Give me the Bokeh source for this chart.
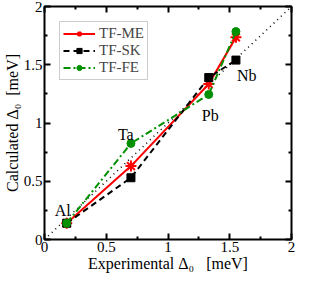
from bokeh.plotting import figure
from bokeh.models import (Range1d, FixedTicker, LinearAxis, CustomJSTickFormatter,
                          ColumnDataSource, Legend, LegendItem)
from bokeh.core.properties import value
from bokeh.embed import file_html
from bokeh.resources import INLINE

# ---- data ----
materials = ["Al", "Ta", "Pb", "Nb"]
experimental = [0.18, 0.70, 1.33, 1.55]
tf_me = [0.14, 0.63, 1.335, 1.735]
tf_sk = [0.14, 0.53, 1.39, 1.54]
tf_fe = [0.14, 0.825, 1.245, 1.785]
label_anchor_y = [0.14, 0.825, 1.245, 1.54]
diag = [0, 2]
major_ticks = [0, 0.5, 1, 1.5, 2]
tick_labels = ["0", "0.5", "1", "1.5", "2"]
minor_ticks = [0.25, 0.75, 1.25, 1.75]

FONT = "Liberation Serif"
RED = "#ff0000"
GREEN = "#009000"

p = figure(width=296, height=274, output_backend="svg", toolbar_location=None,
           x_range=Range1d(0, 2), y_range=Range1d(0, 2),
           min_border_left=0, min_border_right=5, min_border_top=6, min_border_bottom=0)
p.grid.visible = False
p.outline_line_color = "black"
p.outline_line_width = 2

fmt = CustomJSTickFormatter(args=dict(mt=major_ticks, ml=tick_labels),
                            code="const i = mt.indexOf(tick); return i >= 0 ? ml[i] : String(tick);")
blank = CustomJSTickFormatter(code="return '';")

def style_axis(ax, show_labels=True):
    ax.ticker = FixedTicker(ticks=major_ticks, minor_ticks=minor_ticks)
    ax.axis_line_color = None
    ax.major_tick_in = 6
    ax.major_tick_out = 0
    ax.minor_tick_in = 3
    ax.minor_tick_out = 0
    ax.major_tick_line_width = 2
    ax.minor_tick_line_width = 2
    ax.major_tick_line_color = "black"
    ax.minor_tick_line_color = "black"
    if show_labels:
        ax.formatter = fmt
        ax.major_label_text_font = FONT
        ax.major_label_text_font_size = "15px"
        ax.major_label_text_color = "black"
        ax.major_label_text_line_height = 0.9
        ax.major_label_standoff = 2
        ax.axis_label_text_font = FONT
        ax.axis_label_text_font_size = "16px"
        ax.axis_label_text_font_style = "normal"
        ax.axis_label_text_color = "black"
        ax.axis_label_text_line_height = 0.9
        ax.axis_label_standoff = 0
    else:
        ax.formatter = blank
        ax.major_label_standoff = 0

style_axis(p.xaxis[0])
style_axis(p.yaxis[0])
p.xaxis[0].axis_label = "Experimental Δ₀\u00a0\u00a0\u00a0[meV]"
p.yaxis[0].axis_label = "Calculated Δ₀\u00a0\u00a0[meV]"

top = LinearAxis()
right = LinearAxis()
style_axis(top, False)
style_axis(right, False)
p.add_layout(top, "above")
p.add_layout(right, "right")

# diagonal
p.line(diag, diag, line_color="black", line_dash="1 4", line_width=1.5)

src = ColumnDataSource(dict(x=experimental, me=tf_me, sk=tf_sk, fe=tf_fe,
                            name=materials, ly=label_anchor_y))

l1 = p.line("x", "me", source=src, line_color=RED, line_width=2)
m1 = p.scatter("x", "me", source=src, marker="asterisk", size=11, line_color=RED, line_width=2)
l2 = p.line("x", "sk", source=src, line_color="black", line_width=2, line_dash="6 4")
m2 = p.scatter("x", "sk", source=src, marker="square", size=8, fill_color="black", line_color="black")
l3 = p.line("x", "fe", source=src, line_color=GREEN, line_width=2, line_dash="7 3 2 3")
m3 = p.scatter("x", "fe", source=src, marker="circle", size=8, fill_color=GREEN, line_color=GREEN)

# text labels anchored at data points, pixel offsets
src_lab = ColumnDataSource(dict(x=experimental, y=label_anchor_y, text=materials,
                                xo=[-12, -13, -7, 1], yo=[-13, -9, 21, 15]))
p.text("x", "y", text="text", x_offset="xo", y_offset="yo", source=src_lab,
       text_font=value(FONT), text_font_size="16px", text_color="black",
       text_baseline="alphabetic", text_align="left")

legend = Legend(items=[LegendItem(label="TF-ME", renderers=[l1, m1]),
                       LegendItem(label="TF-SK", renderers=[l2, m2]),
                       LegendItem(label="TF-FE", renderers=[l3, m3])],
                location="top_left")
legend.margin = 15
legend.padding = 3
legend.spacing = 0
legend.label_text_font = FONT
legend.label_text_font_size = "15px"
legend.label_height = 13
legend.glyph_height = 13
legend.glyph_width = 32
legend.label_standoff = 4
legend.border_line_color = "#999999"
legend.border_line_width = 1
legend.background_fill_alpha = 1.0
p.add_layout(legend)

open("out.html", "w").write(file_html(p, INLINE))
